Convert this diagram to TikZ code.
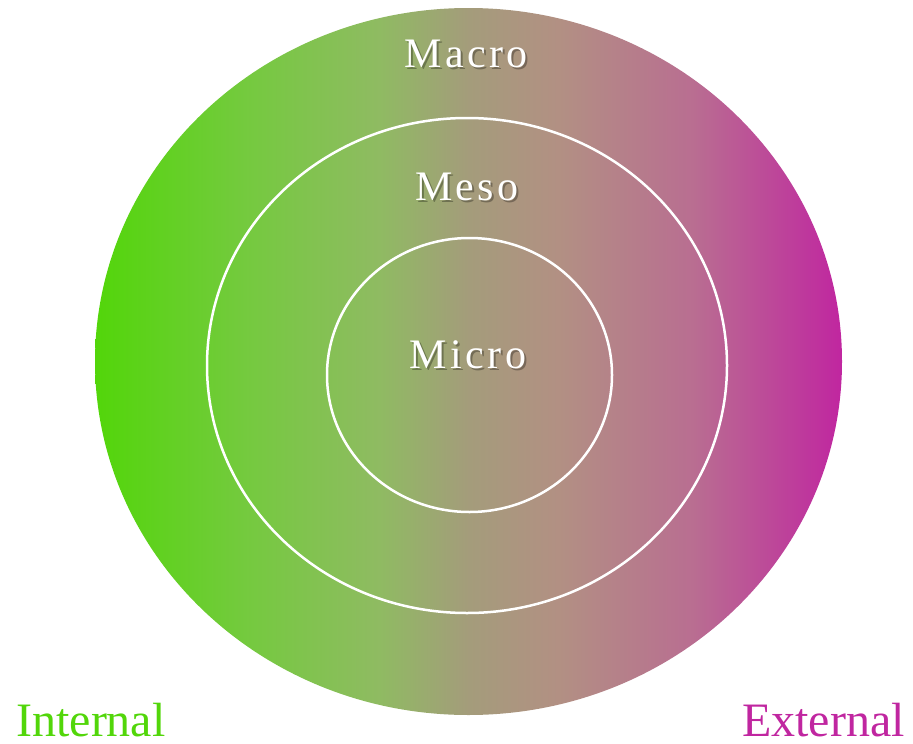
\documentclass[tikz,border=0pt]{standalone}
\usepackage{fontspec}
\setmainfont{Liberation Serif}
\newfontfamily\ringfont[LetterSpace=8]{Liberation Serif}
\usepackage{tikz}
\usepackage{xcolor}

\definecolor{ingreen}{RGB}{82,214,10}
\definecolor{exmagenta}{RGB}{192,38,160}

% green to magenta, path spans 25bp..75bp
\pgfdeclarehorizontalshading{ringfade}{100bp}{
  rgb(0bp)=(0.322,0.839,0.039);
  rgb(25bp)=(0.322,0.839,0.039);
  rgb(35bp)=(0.455,0.792,0.243);
  rgb(44bp)=(0.561,0.733,0.384);
  rgb(50bp)=(0.643,0.612,0.482);
  rgb(56bp)=(0.698,0.565,0.514);
  rgb(65bp)=(0.725,0.431,0.569);
  rgb(75bp)=(0.753,0.149,0.627);
  rgb(100bp)=(0.753,0.149,0.627)}

\tikzset{
  ringlabel/.style={text=white, font=\ringfont\fontsize{42}{48}\selectfont, anchor=base, inner sep=0pt},
  ringshadow/.style={ringlabel, text=black, opacity=0.3},
  sidelabel/.style={font=\fontsize{48}{56}\selectfont, anchor=base, inner sep=0pt}
}

\begin{document}
\begin{tikzpicture}[x=1pt,y=-1pt]

\def\outerring{(468.5,361.5) ellipse (373.5 and 353.5)}
\def\middlering{(467,365.5) ellipse (260 and 247.5)}
\def\innerring{(469.5,375) ellipse (142.5 and 137)}

\useasboundingbox (0,0) rectangle (913,744);

% shaded disc
\shade[shading=ringfade] \outerring;

% white rings
\draw[white, line width=2.5pt] \middlering \innerring;

% labels with soft shadow
\node[ringshadow] (macro-sh) at (468,69.5) {Macro};
\node[ringlabel] (macro) at (466,67) {Macro};
\node[ringshadow] (meso-sh) at (469,202.5) {Meso};
\node[ringlabel] (meso) at (467,200) {Meso};
\node[ringshadow] (micro-sh) at (470,370.5) {Micro};
\node[ringlabel] (micro) at (468,368) {Micro};

\node[sidelabel, text=ingreen] (internal) at (91,736) {Internal};
\node[sidelabel, text=exmagenta] (external) at (823.5,736) {External};

\end{tikzpicture}
\end{document}
